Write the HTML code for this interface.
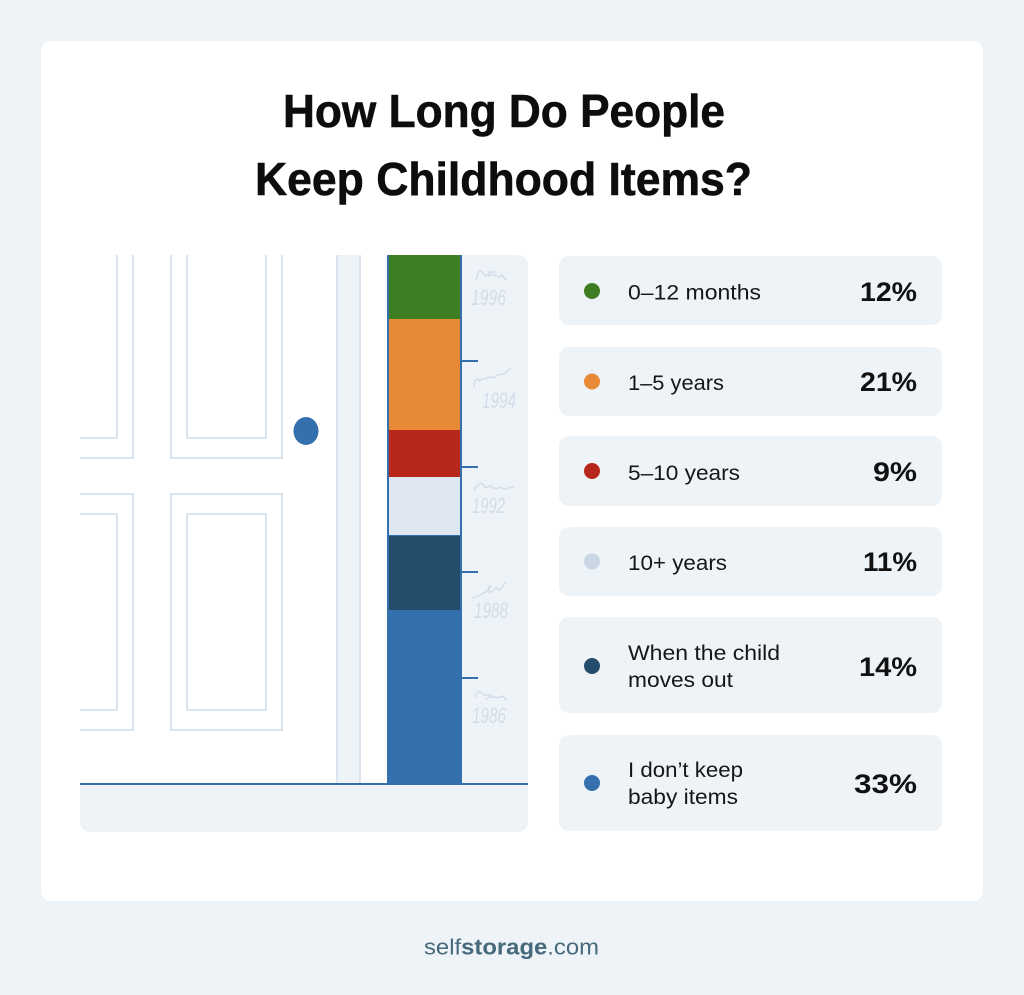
<!DOCTYPE html>
<html>
<head>
<meta charset="utf-8">
<style>
  html, body { margin: 0; padding: 0; }
  body { width: 1024px; height: 995px; background: #eef3f8; overflow: hidden; }
  svg { display: block; }
</style>
</head>
<body>
<svg width="1024" height="995" viewBox="0 0 1024 995" xmlns="http://www.w3.org/2000/svg">
  <!-- page bg -->
  <rect x="0" y="0" width="1024" height="995" fill="#eef3f8"/>
  <!-- card -->
  <rect x="41" y="41" width="942" height="860" rx="10" ry="10" fill="#ffffff"/>

  <!-- title -->
  <g font-family="Liberation Sans, Arial, sans-serif" font-weight="700" font-size="46" fill="#0d0d0d" stroke="#0d0d0d" stroke-width="0.6">
    <text x="283" y="127" textLength="442" lengthAdjust="spacingAndGlyphs">How Long Do People</text>
    <text x="255" y="195" textLength="497" lengthAdjust="spacingAndGlyphs">Keep Childhood Items?</text>
  </g>

  <!-- left illustration -->
  <path d="M461,255 H518 A10,10 0 0 1 528,265 V784 H461 Z" fill="#eef3f8"/>
  <path d="M80,784 H528 V822 A10,10 0 0 1 518,832 H90 A10,10 0 0 1 80,822 Z" fill="#eef3f8"/>

  <g fill="none" stroke="#dbe5ef" stroke-width="2">
    <path d="M117,255 V438 H80"/>
    <path d="M133,255 V458 H80"/>
    <path d="M171,255 V458 H282 V255"/>
    <path d="M187,255 V438 H266 V255"/>
    <path d="M80,494 H133 V730 H80"/>
    <path d="M80,514 H117 V710 H80"/>
    <rect x="171" y="494" width="111" height="236"/>
    <rect x="187" y="514" width="79" height="196"/>
  </g>
  <!-- door frame strip -->
  <rect x="336" y="255" width="25" height="529" fill="#eef3f8"/>
  <line x1="337" y1="255" x2="337" y2="784" stroke="#dbe5ef" stroke-width="2"/>
  <line x1="360" y1="255" x2="360" y2="784" stroke="#dbe5ef" stroke-width="2"/>

  <!-- knob -->
  <ellipse cx="306" cy="431" rx="12.5" ry="14" fill="#3470ae"/>

  <!-- bar segments -->
  <rect x="387" y="255" width="75" height="64" fill="#3e7e22"/>
  <rect x="387" y="319" width="75" height="111" fill="#e88a35"/>
  <rect x="387" y="430" width="75" height="47" fill="#b8271b"/>
  <rect x="387" y="477" width="75" height="59" fill="#dfe8f2"/>
  <rect x="387" y="536" width="75" height="74" fill="#244d6c"/>
  <rect x="387" y="610" width="75" height="174" fill="#3470ae"/>
  <line x1="388" y1="255" x2="388" y2="784" stroke="#3470ae" stroke-width="2"/>
  <line x1="461" y1="255" x2="461" y2="784" stroke="#3470ae" stroke-width="2"/>
  <line x1="388" y1="535.5" x2="461" y2="535.5" stroke="#3470ae" stroke-width="1"/>

  <!-- ticks -->
  <g stroke="#3470ae" stroke-width="2">
    <line x1="461" y1="361" x2="478" y2="361"/>
    <line x1="461" y1="467" x2="478" y2="467"/>
    <line x1="461" y1="572" x2="478" y2="572"/>
    <line x1="461" y1="678" x2="478" y2="678"/>
  </g>
  <!-- baseline -->
  <line x1="80" y1="784" x2="528" y2="784" stroke="#3470ae" stroke-width="2"/>

  <!-- handwritten year labels -->
  <g fill="none" stroke="#d3dde9" stroke-width="1.5" stroke-linecap="round">
    <path d="M476,280 C478,272 480,268 483,273 S488,276 490,272 L496,272 M489,276 C494,272 498,280 502,275 L506,280"/>
    <path d="M474,386 C474,378 478,378 480,381 C482,377 485,380 487,378 C490,375 493,380 496,376 C500,372 503,377 506,372 L511,368"/>
    <path d="M474,490 C478,484 481,481 484,486 C486,490 489,484 492,487 C496,491 500,485 503,489 C507,490 510,486 514,487"/>
    <path d="M472,598 C480,596 486,592 490,588 C492,584 487,586 489,592 C493,594 496,584 498,589 C500,592 503,585 506,582"/>
    <path d="M475,697 C478,689 481,692 484,695 L492,695 M487,699 C491,694 498,700 503,696 L506,700"/>
  </g>
  <g font-family="Liberation Sans, Arial, sans-serif" font-style="italic" font-size="22" fill="#d3dde9">
    <text x="471" y="305" textLength="35" lengthAdjust="spacingAndGlyphs">1996</text>
    <text x="482" y="408" textLength="34" lengthAdjust="spacingAndGlyphs">1994</text>
    <text x="472" y="513" textLength="33" lengthAdjust="spacingAndGlyphs">1992</text>
    <text x="474" y="618" textLength="34" lengthAdjust="spacingAndGlyphs">1988</text>
    <text x="472" y="723" textLength="34" lengthAdjust="spacingAndGlyphs">1986</text>
  </g>

  <!-- legend cards -->
  <g fill="#eef3f8">
    <rect x="559" y="256" width="383" height="69" rx="10"/>
    <rect x="559" y="347" width="383" height="69" rx="10"/>
    <rect x="559" y="436" width="383" height="70" rx="10"/>
    <rect x="559" y="527" width="383" height="69" rx="10"/>
    <rect x="559" y="617" width="383" height="96" rx="10"/>
    <rect x="559" y="735" width="383" height="96" rx="10"/>
  </g>
  <!-- dots -->
  <circle cx="592" cy="291" r="8" fill="#3e7e22"/>
  <circle cx="592" cy="381.5" r="8" fill="#e88a35"/>
  <circle cx="592" cy="471" r="8" fill="#b8271b"/>
  <circle cx="592" cy="561.5" r="8" fill="#c9d6e3"/>
  <circle cx="592" cy="666" r="8" fill="#244d6c"/>
  <circle cx="592" cy="783" r="8" fill="#3470ae"/>

  <!-- labels -->
  <g font-family="Liberation Sans, Arial, sans-serif" font-size="21" fill="#161616">
    <text x="628" y="299.5" textLength="133" lengthAdjust="spacingAndGlyphs">0–12 months</text>
    <text x="628" y="390" textLength="96" lengthAdjust="spacingAndGlyphs">1–5 years</text>
    <text x="628" y="480" textLength="112" lengthAdjust="spacingAndGlyphs">5–10 years</text>
    <text x="628" y="570" textLength="99" lengthAdjust="spacingAndGlyphs">10+ years</text>
    <text x="628" y="660" textLength="152" lengthAdjust="spacingAndGlyphs">When the child</text>
    <text x="628" y="687" textLength="105" lengthAdjust="spacingAndGlyphs">moves out</text>
    <text x="628" y="777" textLength="115" lengthAdjust="spacingAndGlyphs">I don’t keep</text>
    <text x="628" y="804" textLength="110" lengthAdjust="spacingAndGlyphs">baby items</text>
  </g>
  <!-- percents -->
  <g font-family="Liberation Sans, Arial, sans-serif" font-size="27" font-weight="700" fill="#111111" text-anchor="end">
    <text x="917" y="301" textLength="57" lengthAdjust="spacingAndGlyphs">12%</text>
    <text x="917" y="391" textLength="57" lengthAdjust="spacingAndGlyphs">21%</text>
    <text x="917" y="481" textLength="44" lengthAdjust="spacingAndGlyphs">9%</text>
    <text x="917" y="571" textLength="54" lengthAdjust="spacingAndGlyphs">11%</text>
    <text x="917" y="676" textLength="58" lengthAdjust="spacingAndGlyphs">14%</text>
    <text x="917" y="793" textLength="63" lengthAdjust="spacingAndGlyphs">33%</text>
  </g>

  <!-- footer -->
  <text x="424" y="954.5" font-family="Liberation Sans, Arial, sans-serif" font-size="22" fill="#46697c" textLength="175" lengthAdjust="spacingAndGlyphs">self<tspan font-weight="700">storage</tspan>.com</text>
</svg>
</body>
</html>
